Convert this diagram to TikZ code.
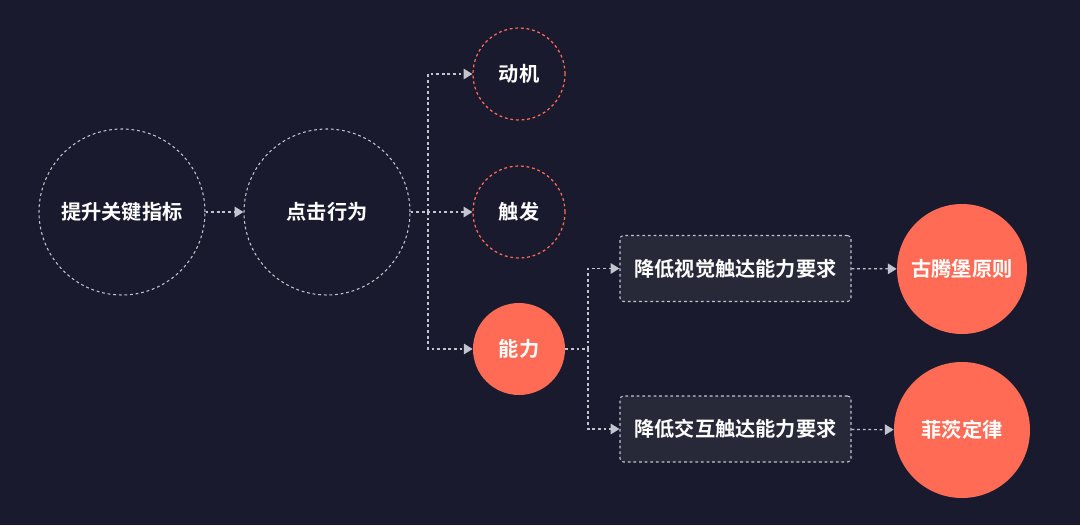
\documentclass[tikz,border=0pt]{standalone}
\usepackage{fontspec}
\newfontfamily\cjk{Noto Sans CJK SC}[BoldFont={Noto Sans CJK SC Bold}]
\usetikzlibrary{arrows.meta}
\definecolor{bg}{HTML}{191A2E}
\definecolor{coral}{HTML}{FF6B55}
\definecolor{boxbg}{HTML}{272838}
\definecolor{ln}{HTML}{C4C4CE}
\begin{document}
\begin{tikzpicture}[x=0.02cm,y=-0.02cm,
  txt/.style={text=white,font=\cjk\fontsize{11.5}{13}\selectfont\bfseries},
  dd/.style={dash pattern=on 1.6pt off 1.6pt},
  bigc/.style={circle,draw=ln,dd,line width=0.6pt,minimum size=166*0.02cm,inner sep=0pt,txt},
  redc/.style={circle,draw=coral,dd,line width=0.7pt,minimum size=92*0.02cm,inner sep=0pt,txt},
  fillc/.style={circle,fill=coral,inner sep=0pt,txt},
  boxn/.style={rectangle,rounded corners=2pt,draw=ln,dd,fill=boxbg,line width=0.6pt,minimum width=231*0.02cm,minimum height=66*0.02cm,txt},
  con/.style={draw=ln,dd,line width=0.7pt},
  arr/.style={con,-{Triangle[length=5pt,width=6pt,fill=ln]}}]
\fill[bg] (0,0) rectangle (1080,525);
\useasboundingbox (0,0) rectangle (1080,525);
\node[bigc] (a) at (122,212) {提升关键指标};
\node[bigc] (b) at (327,212) {点击行为};
\node[redc] (m) at (519,74) {动机};
\node[redc] (t) at (519,212) {触发};
\node[fillc,minimum size=92*0.02cm] (n) at (519,349) {能力};
\node[boxn] (r1) at (735.5,268.5) {降低视觉触达能力要求};
\node[boxn] (r2) at (735.5,429) {降低交互触达能力要求};
\node[fillc,minimum size=130*0.02cm] (g) at (962,269) {古腾堡原则};
\node[fillc,minimum size=136*0.02cm] (f) at (962,430) {菲茨定律};
\coordinate (j1) at (428,212);
\coordinate (j2) at (588,349);
\draw[arr] (a) -- (b);
\draw[arr] (b) -- (t);
\draw[arr] (j1) |- (m);
\draw[arr] (j1) |- (n);
\draw[con] (n) -- (j2);
\draw[arr] (j2) |- (r1);
\draw[arr] (j2) |- (r2);
\draw[arr] (r1) -- (g);
\draw[arr] (r2) -- (f);
\end{tikzpicture}
\end{document}
